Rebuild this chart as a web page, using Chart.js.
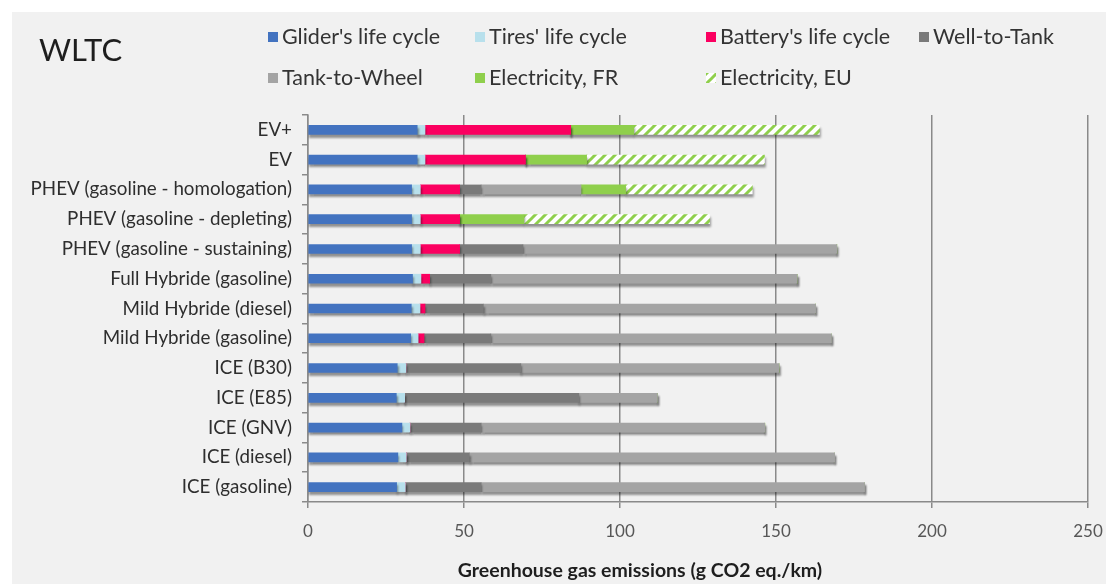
<!DOCTYPE html>
<html>
<head>
<meta charset="utf-8">
<script src="https://cdn.jsdelivr.net/npm/chart.js@4/dist/chart.umd.min.js"></script>
<style>
  html, body { margin: 0; padding: 0; background: #ffffff; }
  #wrap { position: relative; width: 1117px; height: 584px; }
</style>
</head>
<body>
<div id="wrap"><canvas id="c" width="1117" height="584"></canvas></div>
<script>
const categories = [
  'EV+', 'EV', 'PHEV (gasoline - homologation)', 'PHEV (gasoline - depleting)',
  'PHEV (gasoline - sustaining)', 'Full Hybride (gasoline)', 'Mild Hybride (diesel)',
  'Mild Hybride (gasoline)', 'ICE (B30)', 'ICE (E85)', 'ICE (GNV)', 'ICE (diesel)', 'ICE (gasoline)'
];
const seriesNames = ["Glider's life cycle", "Tires' life cycle", "Battery's life cycle", 'Well-to-Tank',
  'Tank-to-Wheel', 'Electricity, FR', 'Electricity, EU'];
const glider   = [35.0, 35.0, 33.2, 33.2, 33.2, 33.5, 33.1, 32.9, 28.6, 28.3, 30.1, 28.8, 28.4];
const tires    = [2.5, 2.5, 2.8, 2.8, 2.8, 2.7, 2.8, 2.4, 2.8, 2.7, 2.6, 2.7, 2.8];
const battery  = [46.7, 32.2, 12.6, 12.6, 12.6, 2.8, 1.6, 1.9, 0, 0, 0, 0, 0];
const wellToTank  = [0, 0, 6.9, 0, 20.3, 19.6, 18.7, 21.4, 36.8, 55.8, 22.8, 20.2, 24.3];
const tankToWheel = [0, 0, 32.0, 0, 100.6, 98.2, 106.5, 109.2, 82.8, 25.2, 90.9, 117.1, 122.9];
const elecFR   = [20.2, 19.6, 14.3, 20.6, 0, 0, 0, 0, 0, 0, 0, 0, 0];
const elecEU   = [59.5, 57.0, 40.6, 59.5, 0, 0, 0, 0, 0, 0, 0, 0, 0];
const xTicks   = [0, 50, 100, 150, 200, 250];
const chartTitle = 'WLTC';
const xAxisTitle = 'Greenhouse gas emissions (g CO2 eq./km)';

// hatch pattern for Electricity, EU
function makeHatch() {
  const p = document.createElement('canvas');
  p.width = 10; p.height = 10;
  const g = p.getContext('2d');
  g.fillStyle = '#ffffff';
  g.fillRect(0, 0, 10, 10);
  g.strokeStyle = '#8fcf4c';
  g.lineWidth = 3;
  g.beginPath();
  g.moveTo(0, 10); g.lineTo(10, 0);
  g.moveTo(-5, 5); g.lineTo(5, -5);
  g.moveTo(5, 15); g.lineTo(15, 5);
  g.stroke();
  return g.createPattern(p, 'repeat');
}
const ctx = document.getElementById('c').getContext('2d');
const hatch = makeHatch();

const colors = ['#4373c0', '#b8e0ec', '#fb0060', '#7a7a7a', '#a4a4a4', '#8fcf4c', hatch];
const seriesData = [glider, tires, battery, wellToTank, tankToWheel, elecFR, elecEU];

const datasets = seriesNames.map((name, i) => ({
  label: name,
  data: seriesData[i],
  backgroundColor: colors[i],
  borderWidth: 0,
  barThickness: 9,
}));

const FONT = 'Lato, "Open Sans", sans-serif';

const bgPlugin = {
  id: 'bg',
  beforeDraw(chart) {
    const c = chart.ctx;
    c.save();
    c.fillStyle = '#ffffff';
    c.fillRect(0, 0, chart.width, chart.height);
    c.fillStyle = '#f1f1f1';
    c.fillRect(12, 12, 1094, chart.height - 12);
    c.restore();
  }
};

const shadowPlugin = {
  id: 'shadow',
  beforeDatasetsDraw(chart) {
    const c = chart.ctx;
    c.save();
    c.shadowColor = 'rgba(0,0,0,0.4)';
    c.shadowOffsetY = 3;
    c.shadowOffsetX = 1;
    c.shadowBlur = 2;
  },
  afterDatasetsDraw(chart) {
    chart.ctx.restore();
  }
};

const textPlugin = {
  id: 'texts',
  afterDraw(chart) {
    const c = chart.ctx;
    c.save();
    // title
    c.fillStyle = '#1e1e1e';
    c.font = '31px ' + FONT;
    c.textBaseline = 'middle';
    c.textAlign = 'left';
    c.fillText(chartTitle, 39, 51);
    // legend
    const cols = [268, 475, 706, 919];
    const rows = [37, 78];
    c.font = '21.5px ' + FONT;
    chart.data.datasets.forEach((ds, i) => {
      const x = cols[i % 4];
      const y = rows[Math.floor(i / 4)];
      c.fillStyle = ds.backgroundColor;
      c.fillRect(x, y - 5, 10, 10);
      c.fillStyle = '#333333';
      c.fillText(ds.label, x + 14, y);
    });
    // x axis title
    c.font = 'bold 19.5px ' + FONT;
    c.textAlign = 'center';
    c.fillStyle = '#1e1e1e';
    c.fillText(xAxisTitle, 640, 571);
    c.restore();
  }
};

new Chart(ctx, {
  type: 'bar',
  data: { labels: categories, datasets },
  options: {
    indexAxis: 'y',
    responsive: false,
    animation: false,
    events: [],
    layout: { padding: { top: 115, right: 29, left: 0, bottom: 0 } },
    plugins: { legend: { display: false }, tooltip: { enabled: false }, title: { display: false } },
    scales: {
      x: {
        stacked: true,
        min: 0, max: 250,
        afterFit(scale) { scale.height = 82; },
        afterBuildTicks(scale) { scale.ticks = xTicks.map(v => ({ value: v })); },
        ticks: { color: '#575757', font: { family: FONT, size: 17 }, padding: 13 },
        grid: { color: '#8a8a8a', lineWidth: 1.5, tickLength: 6, tickColor: '#8a8a8a' },
        border: { display: true, color: '#8a8a8a', width: 1.5 }
      },
      y: {
        stacked: true,
        afterFit(scale) { scale.width = 308; },
        ticks: { color: '#2e2e2e', font: { family: FONT, size: 18.8 }, padding: 10 },
        grid: { drawOnChartArea: false, offset: true, tickLength: 6, color: '#8a8a8a', lineWidth: 1.5 },
        border: { display: true, color: '#8a8a8a', width: 1.5 }
      }
    }
  },
  plugins: [bgPlugin, shadowPlugin, textPlugin]
});
</script>
</body>
</html>
